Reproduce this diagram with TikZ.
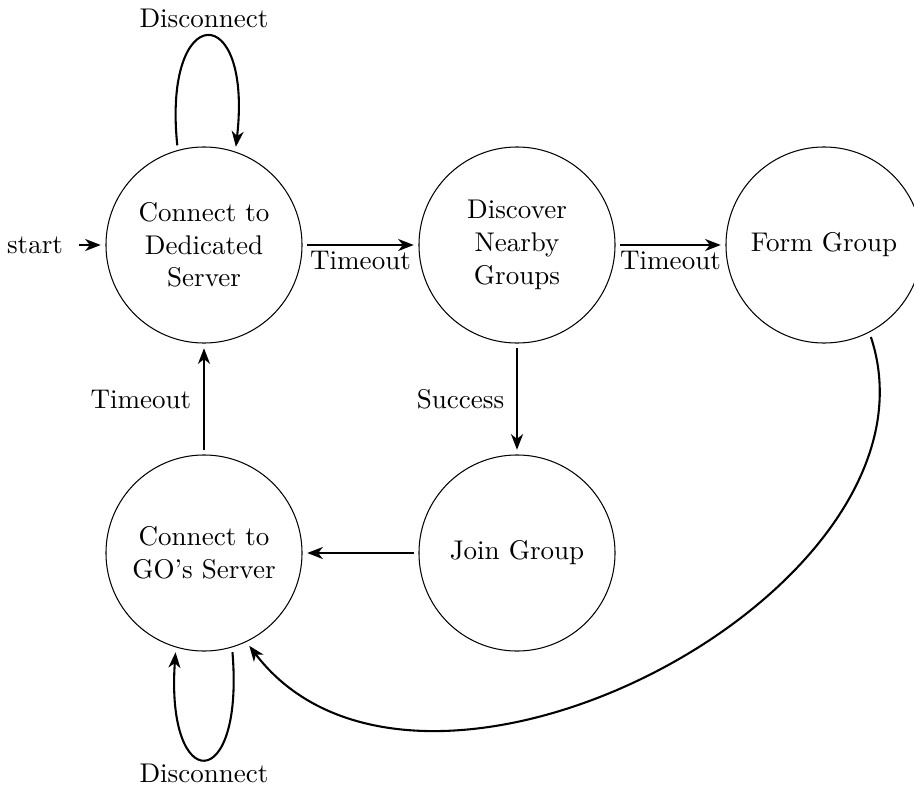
\documentclass[tikz,border=0pt]{standalone}
\usetikzlibrary{arrows.meta}
\begin{document}
\begin{tikzpicture}[
  x=0.3846pt, y=-0.3846pt,
  font=\fontsize{10.4}{12.6}\selectfont,
  state/.style={circle, draw, thin, minimum size=75.4pt, inner sep=0pt,
                outer sep=2pt, align=center},
  trans/.style={thick, -{Stealth[length=6pt, width=4.6pt, inset=1.8pt]}},
  lbl/.style={inner sep=2pt}
]
\useasboundingbox (0,0) rectangle (914,791);

% states
\node[state] (ded)  at (204,245) {Connect to\\Dedicated\\Server};
\node[state] (disc) at (517,245) {Discover\\Nearby\\Groups};
\node[state] (form) at (824,245) {Form Group};
\node[state] (join) at (517,553) {Join Group};
\node[state] (go)   at (204,553) {Connect to\\GO's Server};

% initial marker
\node[inner sep=0pt] (start) at (35,245) {start};
\draw[trans] (start.east) ++(16,0) coordinate (s0) -- (ded);

% straight transitions
\draw[trans] (ded) -- node[lbl, below] {Timeout} (disc);
\draw[trans] (disc) -- node[lbl, below] {Timeout} (form);
\draw[trans] (disc) -- node[lbl, left, xshift=-2.5pt] {Success} (join);
\draw[trans] (join) -- (go);
\draw[trans] (go) -- node[lbl, left, xshift=-2.5pt] {Timeout} (ded);

% self loops
\draw[trans] (ded.105) .. controls +(-15,-145) and +(17,-148) .. (ded.72);
\node (dtop) at (204,18) {Disconnect};
\draw[trans] (go.-74) .. controls +(12,143) and +(-10,143) .. (go.-106);
\node (dbot) at (204,773) {Disconnect};

% long return path
\draw[trans] (form.-63) .. controls (955,590) and (420,870) .. (go.-64);
\end{tikzpicture}
\end{document}
